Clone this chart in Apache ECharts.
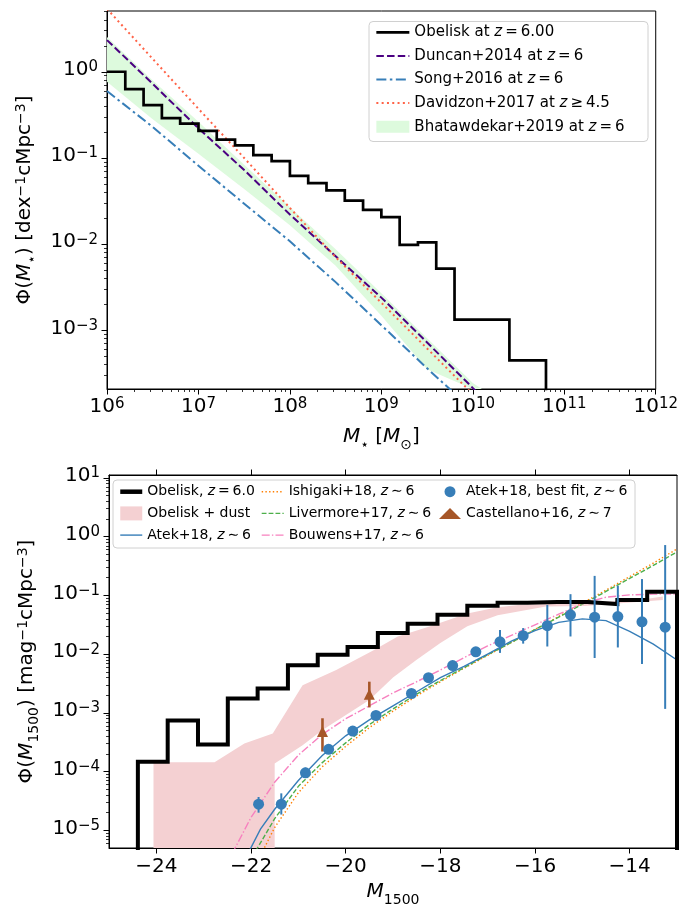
<!DOCTYPE html>
<html><head><meta charset="utf-8">
<script src="https://cdn.jsdelivr.net/npm/echarts@6/dist/echarts.min.js"></script>
<style>html,body{margin:0;padding:0;background:#fff}#c{width:681px;height:908px}</style>
</head><body><div id="c"></div>
<script>
// ================= DATA: top panel (stellar mass function) =================
// x values are log10(M*/Msun)
const smfEdgesLogM = [6.0,6.2,6.4,6.6,6.8,7.0,7.2,7.4,7.6,7.8,8.0,8.2,8.4,8.6,8.8,9.0,9.2,9.4,9.6,9.8,10.0,10.2,10.4,10.6,10.8];
const smfObelisk   = [1.0,0.63,0.41,0.29,0.25,0.206,0.163,0.14,0.108,0.092,0.062,0.051,0.042,0.032,0.025,0.0206,0.0098,0.0105,0.0052,0.00133,0.00133,0.00133,0.00045,0.00045];

const duncanLogM = [6.0,6.5,7.0,7.5,8.0,8.5,9.0,9.5,10.05];
const duncanPhi  = [2.33,0.724,0.221,0.0724,0.0221,0.00724,0.0024,7.24e-4,1.9e-4];

const songLogM = [6.0,6.5,7.0,7.5,8.0,8.5,9.0,9.5,9.85];
const songPhi  = [0.597,0.229,0.0813,0.0295,0.0108,0.00363,0.00115,3.63e-4,1.66e-4];

const davidzonLogM = [6.0,6.5,7.0,7.5,8.0,8.5,9.0,9.5,10.0];
const davidzonPhi  = [5.37,1.41,0.372,0.100,0.0263,0.00708,0.00209,6.17e-4,1.82e-4];

const bhatLogM = [6.0,6.5,7.0,7.5,8.0,8.5,9.0,9.5,10.0,10.1];
const bhatHi   = [2.54,0.794,0.263,0.0832,0.0269,0.00871,0.00269,8.13e-4,2.45e-4,1.9e-4];
const bhatLo   = [0.766,0.282,0.112,0.0437,0.0166,0.00562,0.00148,3.55e-4,8.0e-5,6.0e-5];

const topXTicks = [6,7,8,9,10,11,12];
const topYTicks = [-3,-2,-1,0];

// ================= DATA: bottom panel (UV luminosity function) =================
const uvEdges   = [-24.39,-23.76,-23.12,-22.49,-21.86,-21.22,-20.59,-19.96,-19.32,-18.69,-18.06,-17.43,-16.79,-16.16,-15.53,-14.89,-14.26,-13.63,-13.0];
const uvObelisk = [1.48e-4,7.4e-4,2.9e-4,1.76e-3,2.6e-3,6.45e-3,9.8e-3,0.0132,0.023,0.033,0.047,0.0665,0.075,0.077,0.077,0.0714,0.0836,0.1156];

const dustUpM   = [-24.06,-22.77,-22.14,-21.54,-20.91,-20.2,-19.4,-18.9,-18.23,-17.43,-16.79,-16.3,-15.5,-14.94,-13.9,-13.3];
const dustUpPhi = [1.45e-4,1.45e-4,3.02e-4,4.47e-4,2.95e-3,5.37e-3,0.01175,0.01995,0.0295,0.049,0.0631,0.0692,0.0724,0.0759,0.0813,0.0955];
const dustLoM   = [-24.06,-21.5,-21.5,-20.91,-20.49,-19.5,-19.0,-18.5,-18.0,-17.43,-16.79,-15.77,-14.94,-13.3];
const dustLoPhi = [0,0,1.38e-4,2.82e-4,5.13e-4,1.66e-3,4.0e-3,8.0e-3,0.0155,0.030,0.046,0.0646,0.0661,0.0832];

const atekFitM   = [-22.1,-21.8,-21.5,-21.0,-20.5,-20.0,-19.5,-19.0,-18.5,-18.0,-17.5,-17.0,-16.5,-16.0,-15.5,-15.0,-14.5,-14.0,-13.5,-13.0];
const atekFitPhi = [3.55e-6,1.05e-5,2.29e-5,7.08e-5,1.86e-4,4.07e-4,7.59e-4,1.32e-3,2.29e-3,3.98e-3,6.17e-3,0.0100,0.0166,0.0251,0.0347,0.0398,0.0372,0.0245,0.0148,0.00794];

const livermoreM   = [-21.9,-21.5,-21.0,-20.5,-20.0,-19.5,-19.0,-18.5,-18.0,-17.5,-17.0,-16.5,-16.0,-15.5,-15.0,-14.5,-14.0,-13.5,-13.0];
const livermorePhi = [4.47e-6,1.58e-5,5.62e-5,1.41e-4,3.09e-4,6.31e-4,1.17e-3,2.09e-3,3.55e-3,5.89e-3,9.77e-3,0.0158,0.0263,0.0427,0.0708,0.117,0.195,0.324,0.550];

const ishigakiM   = [-21.75,-21.5,-21.0,-20.5,-20.0,-19.5,-19.0,-18.5,-18.0,-17.5,-17.0,-16.5,-16.0,-15.5,-15.0,-14.5,-14.0,-13.5,-13.0];
const ishigakiPhi = [4.47e-6,1.12e-5,4.37e-5,1.20e-4,2.69e-4,5.62e-4,1.07e-3,1.95e-3,3.39e-3,5.75e-3,9.55e-3,0.0158,0.0263,0.0437,0.0741,0.123,0.209,0.355,0.617];

const bouwensM   = [-22.4,-22.0,-21.5,-21.0,-20.5,-20.0,-19.5,-19.0,-18.5,-18.0,-17.5,-17.0,-16.5,-16.0,-15.5,-15.0,-14.5,-14.0,-13.5,-13.0];
const bouwensPhi = [3.98e-6,1.66e-5,6.61e-5,1.91e-4,4.27e-4,7.94e-4,1.32e-3,2.19e-3,3.39e-3,5.37e-3,8.71e-3,0.0138,0.0209,0.0316,0.0479,0.0724,0.0933,0.102,0.105,0.105];

const atekPtM   = [-21.84,-21.36,-20.85,-20.36,-19.85,-19.36,-18.61,-18.25,-17.74,-17.25,-16.74,-16.25,-15.74,-15.25,-14.74,-14.25,-13.74,-13.25];
const atekPtPhi = [2.79e-5,2.79e-5,9.55e-5,2.40e-4,4.90e-4,9.03e-4,2.14e-3,3.98e-3,6.38e-3,0.01096,0.0162,0.0206,0.0305,0.0468,0.0427,0.0437,0.0355,0.0288];
const atekPtLo  = [2.0e-5,1.86e-5,7.9e-5,2.19e-4,4.57e-4,8.5e-4,2.0e-3,3.7e-3,6.0e-3,0.0102,0.0105,0.0151,0.0135,0.020,0.0086,0.0130,0.0068,0.00117];
const atekPtHi  = [3.7e-5,4.27e-5,1.17e-4,2.63e-4,5.25e-4,9.55e-4,2.29e-3,4.27e-3,6.76e-3,0.01175,0.0258,0.0278,0.069,0.105,0.215,0.146,0.19,0.72];

const castM   = [-20.49,-19.5];
const castPhi = [4.8e-4,2.07e-3];
const castLo  = [2.2e-4,1.24e-3];
const castHi  = [8.1e-4,3.4e-3];

const botXTicks = [-24,-22,-20,-18,-16,-14];
const botYTicks = [-5,-4,-3,-2,-1,0,1];

// ================= helpers =================
const F = 'DejaVu Sans';
const L = v => (v > 0 ? Math.log10(v) : -9);
const pairs = (xs, vs) => xs.map((x, i) => [x, L(vs[i])]);
function stepPoints(edges, vals, riseFromZero) {
  const pts = [];
  if (riseFromZero) pts.push([edges[0], L(0)]);
  for (let i = 0; i < vals.length; i++) {
    pts.push([edges[i], L(vals[i])]);
    pts.push([edges[i + 1], L(vals[i])]);
  }
  pts.push([edges[edges.length - 1], L(0)]);
  return pts;
}
function minorTicks(lo, hi) {
  const out = [];
  for (let n = Math.floor(lo) - 1; n <= Math.ceil(hi); n++)
    for (let k = 2; k <= 9; k++) { const v = n + Math.log10(k); if (v > lo && v < hi) out.push(v); }
  return out;
}
const minus = s => String(s).replace('-', '\u2212');
const supLabel = v => '{b|10}{s|' + minus(Math.round(v)) + '}';
const tickRich = {
  b: { fontSize: 20, fontFamily: F, color: '#000', lineHeight: 24, verticalAlign: 'top' },
  s: { fontSize: 15, fontFamily: F, color: '#000', lineHeight: 10, verticalAlign: 'top' }
};
const nameRich = {
  n: { fontSize: 20, fontFamily: F, color: '#000', lineHeight: 24, verticalAlign: 'top' },
  i: { fontSize: 20, fontFamily: F, color: '#000', lineHeight: 24, verticalAlign: 'top', fontStyle: 'italic' },
  sub: { fontSize: 14, fontFamily: F, color: '#000', lineHeight: 14, verticalAlign: 'top', padding: [11, 0, 0, 0] },
  sup: { fontSize: 14, fontFamily: F, color: '#000', lineHeight: 10, verticalAlign: 'top' }
};
const nameStyle = { fontSize: 20, fontFamily: F, color: '#000', rich: nameRich };

function bandSeries(name, xi, yi, upX, upV, loX, loV, color) {
  return {
    type: 'custom', name, xAxisIndex: xi, yAxisIndex: yi, z: 1, silent: true,
    itemStyle: { color },
    data: [[upX[0], L(upV[0])]],
    renderItem: (params, api) => {
      const pts = [];
      for (let i = 0; i < upX.length; i++) pts.push(api.coord([upX[i], L(upV[i])]));
      for (let i = loX.length - 1; i >= 0; i--) pts.push(api.coord([loX[i], L(loV[i])]));
      const cs = params.coordSys;
      const clipped = echarts.graphic.clipPointsByRect(pts, { x: cs.x, y: cs.y, width: cs.width, height: cs.height });
      return { type: 'polygon', shape: { points: clipped }, style: { fill: color } };
    }
  };
}
function lineSeries(name, xi, yi, data, color, width, type, z) {
  return {
    type: 'line', name, xAxisIndex: xi, yAxisIndex: yi, data, symbol: 'none', z: z || 2,
    clip: true, silent: true, smooth: false,
    lineStyle: { color, width, type: type || 'solid', join: 'miter', cap: 'butt' },
    itemStyle: { color }
  };
}
function errSeries(xi, yi, xs, lo, hi, color, w) {
  return {
    type: 'custom', xAxisIndex: xi, yAxisIndex: yi, z: 4, silent: true,
    data: xs.map((x, i) => [x, L(lo[i]), L(hi[i])]),
    encode: { x: 0, y: [1, 2] },
    renderItem: (params, api) => {
      const a = api.coord([api.value(0), api.value(1)]);
      const b = api.coord([api.value(0), api.value(2)]);
      return { type: 'line', shape: { x1: a[0], y1: a[1], x2: b[0], y2: b[1] }, style: { stroke: color, lineWidth: w } };
    }
  };
}

const N = {
  obTop: 'Obelisk at $z$\u2009=\u20096.00',
  duncan: 'Duncan+2014 at $z$\u2009=\u20096',
  song: 'Song+2016 at $z$\u2009=\u20096',
  david: 'Davidzon+2017 at $z$\u2009\u2265\u20094.5',
  bhat: 'Bhatawdekar+2019 at $z$\u2009=\u20096',
  obBot: 'Obelisk, $z$\u2009=\u20096.0',
  dust: 'Obelisk + dust',
  atekFit: 'Atek+18, $z$\u2009\u223c\u20096',
  ishi: 'Ishigaki+18, $z$\u2009\u223c\u20096',
  liver: 'Livermore+17, $z$\u2009\u223c\u20096',
  bouw: 'Bouwens+17, $z$\u2009\u223c\u20096',
  atekPt: 'Atek+18, best fit, $z$\u2009\u223c\u20096',
  cast: 'Castellano+16, $z$\u2009\u223c\u20097'
};
const lineItem = (name, w) => {
  const it = { name, itemStyle: { opacity: 0 } };
  if (w) it.lineStyle = { width: w };
  return it;
};
const legFmt = name => name.replace(/\$z\$/g, '{i|z}');
function legend(left, top, names, size, lh, iw, ih, gap) {
  return {
    left, top, orient: 'vertical', padding: 0, itemWidth: iw, itemHeight: ih, itemGap: gap,
    selectedMode: false, z: 20, data: names, formatter: legFmt,
    textStyle: { fontFamily: F, fontSize: size, color: '#000', lineHeight: lh,
      rich: { i: { fontFamily: F, fontSize: size, fontStyle: 'italic', color: '#000', lineHeight: lh } } }
  };
}

const topYMin = -3.68, topYMax = 0.705;
const botYMin = -5.30, botYMax = 1.05;
const axBase = { type: 'value', splitLine: { show: false }, axisLine: { onZero: false, lineStyle: { color: '#000', width: 1 } } };

const option = {
  animation: false,
  backgroundColor: '#fff',
  grid: [
    { left: 107, top: 11, width: 551, height: 378, show: true, borderColor: '#000', borderWidth: 1, backgroundColor: 'transparent' },
    { left: 109, top: 475, width: 568, height: 373, show: true, borderColor: '#000', borderWidth: 1, backgroundColor: 'transparent' }
  ],
  xAxis: [
    Object.assign({}, axBase, { gridIndex: 0, min: 6, max: 12, position: 'bottom',
      axisTick: { show: true, length: 5.5, lineStyle: { color: '#000' }, customValues: topXTicks },
      axisLabel: { customValues: topXTicks, formatter: supLabel, margin: 8, rich: tickRich },
      name: '{i|M}{sub|\u22c6}{n| [}{i|M}{sub|\u2299}{n|]}', nameLocation: 'middle', nameGap: 38, nameTextStyle: nameStyle }),
    Object.assign({}, axBase, { gridIndex: 0, min: 6, max: 12, position: 'bottom', axisLine: { show: false, onZero: false },
      axisTick: { show: true, length: 3, lineStyle: { color: '#000', width: 0.8 }, customValues: minorTicks(6, 12) },
      axisLabel: { show: false } }),
    Object.assign({}, axBase, { gridIndex: 1, min: -25, max: -13, position: 'bottom',
      axisTick: { show: true, length: 5.5, lineStyle: { color: '#000' }, customValues: botXTicks },
      axisLabel: { customValues: botXTicks, formatter: v => minus(v), margin: 9, fontSize: 20, fontFamily: F, color: '#000' },
      name: '{i|M}{sub|1500}', nameLocation: 'middle', nameGap: 34, nameTextStyle: nameStyle }),
    Object.assign({}, axBase, { gridIndex: 1, min: -25, max: -13, position: 'top',
      axisTick: { show: true, length: 5.5, lineStyle: { color: '#000' }, customValues: botXTicks },
      axisLabel: { show: false } })
  ],
  yAxis: [
    Object.assign({}, axBase, { gridIndex: 0, min: topYMin, max: topYMax, position: 'left',
      axisTick: { show: true, length: 5.5, lineStyle: { color: '#000' }, customValues: topYTicks },
      axisLabel: { customValues: topYTicks, formatter: supLabel, margin: 9, rich: tickRich },
      name: '{n|\u03a6(}{i|M}{sub|\u22c6}{n|) [dex}{sup|\u22121}{n|cMpc}{sup|\u22123}{n|]}', nameLocation: 'middle', nameGap: 66, nameTextStyle: nameStyle }),
    Object.assign({}, axBase, { gridIndex: 0, min: topYMin, max: topYMax, position: 'left', axisLine: { show: false, onZero: false },
      axisTick: { show: true, length: 3, lineStyle: { color: '#000', width: 0.8 }, customValues: minorTicks(topYMin, topYMax) },
      axisLabel: { show: false } }),
    Object.assign({}, axBase, { gridIndex: 1, min: botYMin, max: botYMax, position: 'left',
      axisTick: { show: true, length: 5.5, lineStyle: { color: '#000' }, customValues: botYTicks },
      axisLabel: { customValues: botYTicks, formatter: supLabel, margin: 9, rich: tickRich },
      name: '{n|\u03a6(}{i|M}{sub|1500}{n|) [mag}{sup|\u22121}{n|cMpc}{sup|\u22123}{n|]}', nameLocation: 'middle', nameGap: 66, nameTextStyle: nameStyle }),
    Object.assign({}, axBase, { gridIndex: 1, min: botYMin, max: botYMax, position: 'left', axisLine: { show: false, onZero: false },
      axisTick: { show: true, length: 3, lineStyle: { color: '#000', width: 0.8 }, customValues: minorTicks(botYMin, botYMax) },
      axisLabel: { show: false } })
  ],
  graphic: [
    { type: 'rect', z: 10, shape: { x: 369, y: 21.5, width: 279, height: 120, r: 4 }, style: { fill: 'rgba(255,255,255,0.8)', stroke: '#d0d0d0', lineWidth: 1 } },
    { type: 'rect', z: 10, shape: { x: 113, y: 480, width: 522, height: 68, r: 4 }, style: { fill: 'rgba(255,255,255,0.8)', stroke: '#d0d0d0', lineWidth: 1 } }
  ],
  legend: [
    legend(375, 24.3, [lineItem(N.obTop, 2.7), lineItem(N.duncan, 2), lineItem(N.song, 2), lineItem(N.david, 2), { name: N.bhat, icon: 'rect' }], 15, 16, 33, 12, 7.6),
    legend(118, 484.2, [lineItem(N.obBot, 4.5), { name: N.dust, icon: 'rect' }, lineItem(N.atekFit, 1.4)], 14, 15, 22, 14, 6.7),
    legend(261, 484.2, [lineItem(N.ishi, 1.4), lineItem(N.liver, 1.4), lineItem(N.bouw, 1.4)], 14, 15, 22, 14, 6.7),
    legend(439, 484.2, [N.atekPt, N.cast], 14, 15, 22, 11, 6.7)
  ],
  series: [
    // top panel
    bandSeries(N.bhat, 0, 0, bhatLogM, bhatHi, bhatLogM, bhatLo, '#ddfadd'),
    lineSeries(N.song, 0, 0, pairs(songLogM, songPhi), '#377eb8', 2, [10, 3.5, 2.5, 3.5]),
    lineSeries(N.duncan, 0, 0, pairs(duncanLogM, duncanPhi), '#4b0082', 2, [7.5, 3.2]),
    lineSeries(N.david, 0, 0, pairs(davidzonLogM, davidzonPhi), '#ff6347', 2, [2, 3.3]),
    lineSeries(N.obTop, 0, 0, stepPoints(smfEdgesLogM, smfObelisk, false), '#000', 2.7, 'solid', 3),
    // bottom panel
    bandSeries(N.dust, 2, 2, dustUpM, dustUpPhi, dustLoM, dustLoPhi, '#f4d0d2'),
    lineSeries(N.ishi, 2, 2, pairs(ishigakiM, ishigakiPhi), '#ff7f00', 1.4, [1.4, 2.3]),
    lineSeries(N.liver, 2, 2, pairs(livermoreM, livermorePhi), '#4daf4a', 1.4, [4.8, 2.1]),
    lineSeries(N.atekFit, 2, 2, pairs(atekFitM, atekFitPhi), '#377eb8', 1.4, 'solid'),
    lineSeries(N.bouw, 2, 2, pairs(bouwensM, bouwensPhi), '#f781bf', 1.4, [8, 2.2, 1.4, 2.2]),
    lineSeries(N.obBot, 2, 2, stepPoints(uvEdges, uvObelisk, true), '#000', 4, 'solid', 3),
    errSeries(2, 2, atekPtM, atekPtLo, atekPtHi, '#377eb8', 2),
    errSeries(2, 2, castM, castLo, castHi, '#a65628', 2.6),
    { type: 'scatter', name: N.atekPt, xAxisIndex: 2, yAxisIndex: 2, z: 5, silent: true, symbol: 'circle', symbolSize: 11,
      itemStyle: { color: '#377eb8', opacity: 1 }, data: pairs(atekPtM, atekPtPhi) },
    { type: 'scatter', name: N.cast, xAxisIndex: 2, yAxisIndex: 2, z: 5, silent: true, symbol: 'triangle', symbolSize: 11,
      itemStyle: { color: '#a65628', opacity: 1 }, data: pairs(castM, castPhi) }
  ]
};
const chart = echarts.init(document.getElementById('c'), null, { renderer: 'canvas' });
chart.setOption(option);
</script>
</body></html>
